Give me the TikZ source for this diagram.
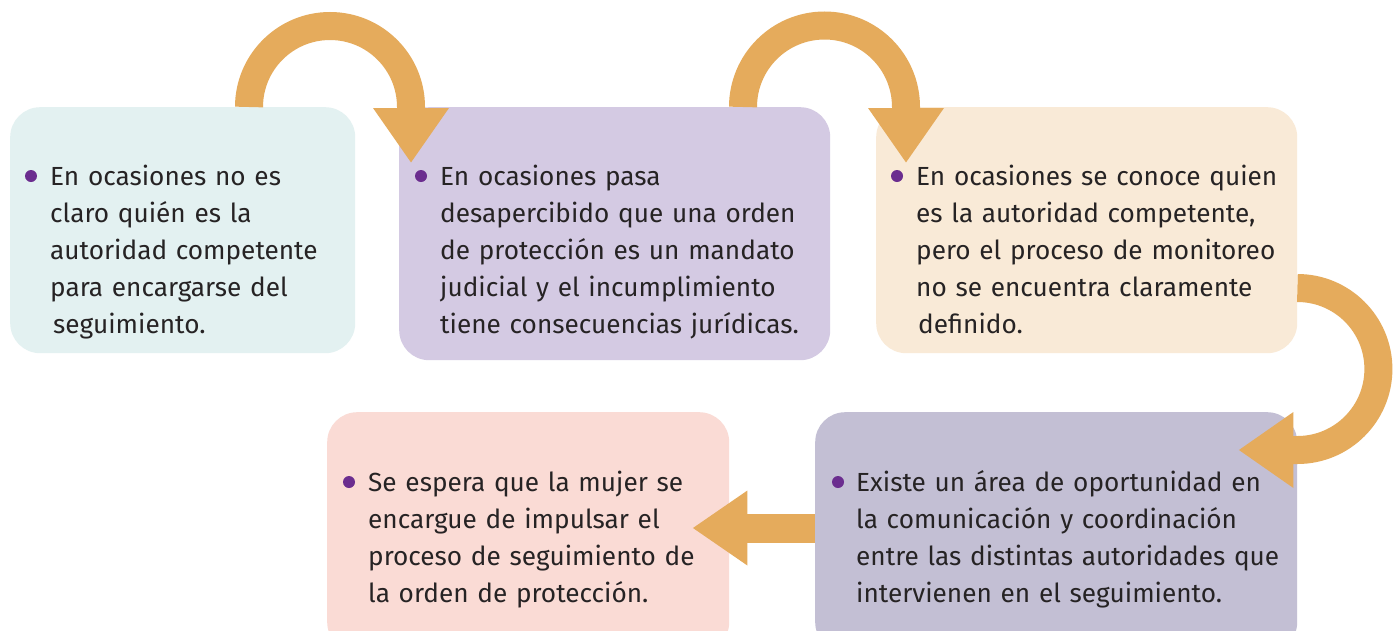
\documentclass[tikz,border=0pt]{standalone}
\usepackage{fontspec}
\setmainfont{Fira Sans}
\usetikzlibrary{arrows.meta}
\definecolor{cA}{HTML}{E3F1F1}
\definecolor{cB}{HTML}{D4CAE3}
\definecolor{cC}{HTML}{F9EAD7}
\definecolor{cD}{HTML}{C3BFD4}
\definecolor{cE}{HTML}{FADBD5}
\definecolor{arr}{HTML}{E5AB5C}
\definecolor{bul}{HTML}{6B2D8F}
\definecolor{txt}{HTML}{262324}
\begin{document}
\begin{tikzpicture}[x=1pt,y=-1pt,
  box/.style={anchor=north west,inner sep=0pt,rounded corners=30pt,draw=none},
  txtnode/.style={anchor=base west,inner sep=0pt,text width=480pt,align=left,text=txt,
    font=\fontsize{26.2pt}{37pt}\selectfont},
  flow/.style={draw=arr,line width=28pt,-{Triangle[length=55pt,width=72pt]}},
  dot/.style={fill=bul}]
\clip (0,0) rectangle (1395,630);
\fill[white] (0,0) rectangle (1395,630);
% boxes
\node[box,fill=cA,minimum width=345pt,minimum height=246pt] (b1) at (10,107) {};
\node[box,fill=cB,minimum width=431pt,minimum height=253pt] (b2) at (399,107) {};
\node[box,fill=cC,minimum width=421pt,minimum height=246pt] (b3) at (876,107) {};
\node[box,fill=cD,minimum width=482pt,minimum height=240pt] (b4) at (815,412) {};
\node[box,fill=cE,minimum width=402pt,minimum height=240pt] (b5) at (327,412) {};
% texts
\node[txtnode] (t1) at (50,185) {En ocasiones no es\\claro quién es la\\autoridad competente\\para encargarse del\\\hspace*{3pt}seguimiento.};
\node[txtnode] (t2) at (440,185) {En ocasiones pasa\\desapercibido que una orden\\de protección es un mandato\\judicial y el incumplimiento\\tiene consecuencias jurídicas.};
\node[txtnode] (t3) at (916,185) {En ocasiones se conoce quien\\es la autoridad competente,\\pero el proceso de monitoreo\\no se encuentra claramente\\\hspace*{2pt}definido.};
\node[txtnode] (t4) at (856,491) {Existe un área de oportunidad en\\la comunicación y coordinación\\entre las distintas autoridades que\\intervienen en el seguimiento.};
\node[txtnode] (t5) at (368,491) {Se espera que la mujer se\\encargue de impulsar el\\proceso de seguimiento de\\la orden de protección.};
% bullets
\fill[dot] (31,176) circle (6pt);
\fill[dot] (421,176) circle (6pt);
\fill[dot] (897,176) circle (6pt);
\fill[dot] (838,482) circle (6pt);
\fill[dot] (349,482) circle (6pt);
% connectors
\coordinate (a1s) at ([xshift=239pt]b1.north west);
\coordinate (a1e) at ([xshift=12pt,yshift=-56pt]b2.north west);
\draw[flow] (a1s) arc[start angle=180,end angle=360,radius=81] -- (a1e);
\coordinate (a2s) at ([xshift=344pt]b2.north west);
\coordinate (a2e) at ([xshift=30pt,yshift=-56pt]b3.north west);
\draw[flow] (a2s) arc[start angle=180,end angle=360,radius=81.5] -- (a2e);
\coordinate (a3s) at ([yshift=-181pt]b3.north east);
\coordinate (a3e) at ([xshift=-59pt,yshift=-38pt]b4.north east);
\draw[flow] (a3s) arc[start angle=270,end angle=450,radius=81] -- (a3e);
\coordinate (a4s) at ([yshift=-116pt]b4.north west);
\coordinate (a4e) at ([xshift=-37pt,yshift=-116pt]b5.north east);
\draw[flow,line width=29pt,-{Triangle[length=55pt,width=71pt]}] (a4s) -- (a4e);
\end{tikzpicture}
\end{document}
